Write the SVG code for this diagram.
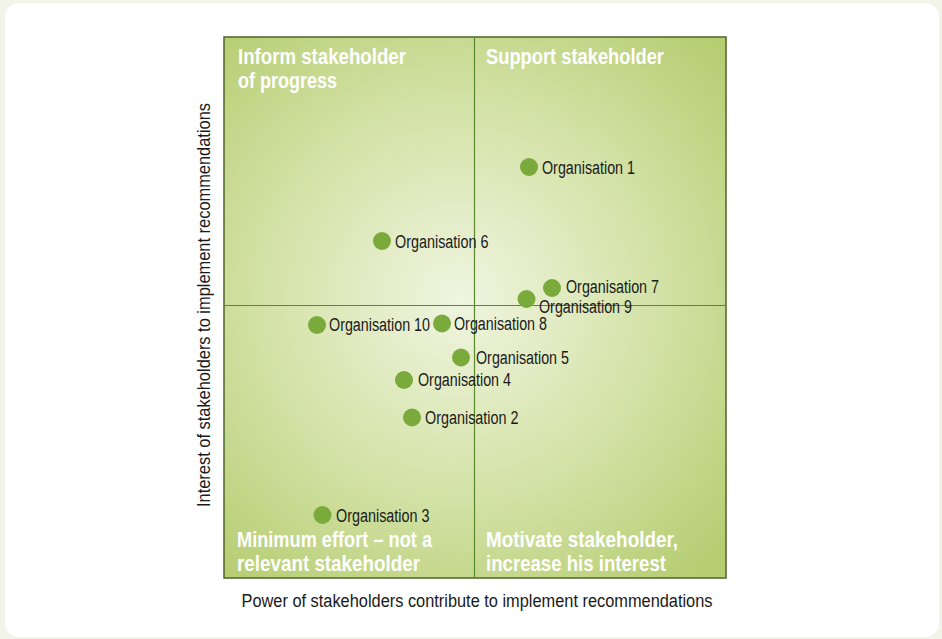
<svg xmlns="http://www.w3.org/2000/svg" width="942" height="639" viewBox="0 0 942 639">
  <defs>
    <radialGradient id="bg" cx="460" cy="300" r="360" gradientUnits="userSpaceOnUse">
      <stop offset="0" stop-color="#f0f5e0"/>
      <stop offset="0.55" stop-color="#d3e2a6"/>
      <stop offset="1" stop-color="#b6cd72"/>
    </radialGradient>
  </defs>
  <style>
    .title { font-family: "Liberation Sans", Arial, sans-serif; font-weight: bold; font-size: 22px; fill: #ffffff; }
    .lbl { font-family: "Liberation Sans", Arial, sans-serif; font-size: 18px; fill: #1a1a1a; }
    .axis { font-family: "Liberation Sans", Arial, sans-serif; font-size: 18px; fill: #1a1a1a; }
    .dot { fill: #7aa93c; }
    .grid { stroke: #5b8a2c; stroke-width: 1.2; fill: none; }
  </style>
  <rect x="0" y="0" width="942" height="639" fill="#f2f4ea"/>
  <rect x="5" y="3" width="934" height="634" rx="14" fill="#ffffff"/>

  <g id="chart">
    <rect x="224" y="37" width="502" height="541" fill="url(#bg)" stroke="#4e6428" stroke-width="1.5"/>
  </g>
  <g id="grid">
    <line class="grid" x1="474.5" y1="37" x2="474.5" y2="578"/>
    <line class="grid" x1="224" y1="305.5" x2="726" y2="305.5"/>
  </g>

  <g id="quadrant-titles">
    <text class="title" x="238" y="64" textLength="168" lengthAdjust="spacingAndGlyphs">Inform stakeholder</text>
    <text class="title" x="238" y="88" textLength="99" lengthAdjust="spacingAndGlyphs">of progress</text>
    <text class="title" x="486" y="64" textLength="178" lengthAdjust="spacingAndGlyphs">Support stakeholder</text>
    <text class="title" x="237" y="547" textLength="195" lengthAdjust="spacingAndGlyphs">Minimum effort – not a</text>
    <text class="title" x="237" y="571" textLength="183" lengthAdjust="spacingAndGlyphs">relevant stakeholder</text>
    <text class="title" x="486" y="547" textLength="192" lengthAdjust="spacingAndGlyphs">Motivate stakeholder,</text>
    <text class="title" x="486" y="571" textLength="180" lengthAdjust="spacingAndGlyphs">increase his interest</text>
  </g>

  <g id="org1"><circle class="dot" cx="529" cy="167" r="9"/><text class="lbl" x="542" y="173.5" textLength="93" lengthAdjust="spacingAndGlyphs">Organisation 1</text></g>
  <g id="org6"><circle class="dot" cx="382" cy="241" r="9"/><text class="lbl" x="395" y="247.5" textLength="93.5" lengthAdjust="spacingAndGlyphs">Organisation 6</text></g>
  <g id="org7"><circle class="dot" cx="552" cy="288" r="9"/><text class="lbl" x="566" y="292.5" textLength="93" lengthAdjust="spacingAndGlyphs">Organisation 7</text></g>
  <g id="org9"><circle class="dot" cx="526.5" cy="299" r="9"/><text class="lbl" x="539" y="312.5" textLength="93" lengthAdjust="spacingAndGlyphs">Organisation 9</text></g>
  <g id="org10"><circle class="dot" cx="317" cy="325" r="9"/><text class="lbl" x="329" y="330.5" textLength="101" lengthAdjust="spacingAndGlyphs">Organisation 10</text></g>
  <g id="org8"><circle class="dot" cx="442" cy="323.5" r="9"/><text class="lbl" x="454" y="329.5" textLength="93" lengthAdjust="spacingAndGlyphs">Organisation 8</text></g>
  <g id="org5"><circle class="dot" cx="461" cy="357.5" r="9"/><text class="lbl" x="476" y="363.5" textLength="93" lengthAdjust="spacingAndGlyphs">Organisation 5</text></g>
  <g id="org4"><circle class="dot" cx="404" cy="380" r="9"/><text class="lbl" x="418" y="386" textLength="93" lengthAdjust="spacingAndGlyphs">Organisation 4</text></g>
  <g id="org2"><circle class="dot" cx="412" cy="417.5" r="9"/><text class="lbl" x="425" y="423.5" textLength="93.5" lengthAdjust="spacingAndGlyphs">Organisation 2</text></g>
  <g id="org3"><circle class="dot" cx="322.5" cy="515" r="9"/><text class="lbl" x="336" y="521.5" textLength="93.5" lengthAdjust="spacingAndGlyphs">Organisation 3</text></g>

  <g id="axis-labels">
    <text class="axis" x="241.5" y="607" textLength="471" lengthAdjust="spacingAndGlyphs">Power of stakeholders contribute to implement recommendations</text>
    <text class="axis" transform="translate(210,507) rotate(-90)" x="0" y="0" textLength="404" lengthAdjust="spacingAndGlyphs">Interest of stakeholders to implement recommendations</text>
  </g>
</svg>
